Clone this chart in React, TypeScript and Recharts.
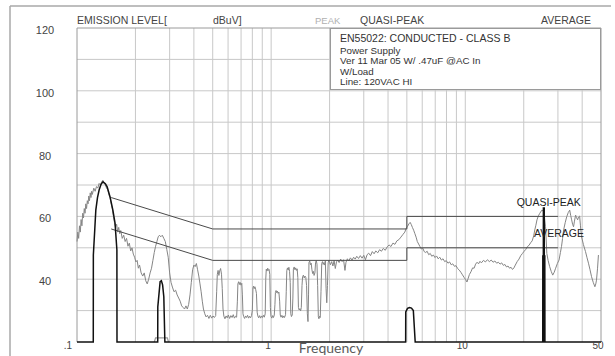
import React from 'react';
import { ComposedChart, Line, XAxis, YAxis, ReferenceLine, ReferenceDot } from 'recharts';

// Frequency axis (MHz, log) and level axis (dBuV)
const freqTicks = [0.1, 1, 10, 50];
const freqTickLabels: Record<number, string> = { 0.1: '.1', 1: '1', 10: '10', 50: '50' };
const levelTicks = [120, 100, 80, 60, 40];
const freqGrid = [0.2, 0.3, 0.4, 0.5, 0.6, 0.7, 0.8, 0.9, 1, 2, 3, 4, 5, 6, 7, 8, 9, 10, 20, 30, 40];
const levelGrid = [30, 40, 50, 60, 70, 80, 90, 100, 110];

// Peak detector scan [MHz, dBuV]
const peakScan: [number, number][] = [
  [0.100, 52], [0.101, 55], [0.102, 53], [0.103, 57], [0.104, 55], [0.105, 59], [0.106, 57], [0.107, 61],
  [0.108, 59.5], [0.109, 62.5], [0.110, 61], [0.111, 64], [0.112, 62.5], [0.113, 65], [0.114, 64], [0.115, 66.5],
  [0.116, 65], [0.117, 67.5], [0.118, 66], [0.119, 68], [0.120, 67], [0.122, 69], [0.124, 68], [0.126, 69.5],
  [0.128, 69], [0.130, 70.5], [0.132, 70], [0.134, 71], [0.136, 71.5], [0.138, 70.5], [0.140, 70], [0.142, 69],
  [0.144, 68.5], [0.146, 67], [0.148, 66], [0.150, 64], [0.152, 62.5], [0.154, 60], [0.156, 58], [0.158, 56.5],
  [0.160, 57.5], [0.162, 55], [0.164, 56.5], [0.166, 54.5], [0.168, 55.5], [0.171, 53], [0.174, 54], [0.177, 52],
  [0.180, 53], [0.183, 50.5], [0.186, 51.5], [0.189, 49], [0.192, 50], [0.195, 48], [0.198, 47], [0.201, 45.5],
  [0.204, 46], [0.207, 43.5], [0.210, 44.5], [0.214, 42], [0.218, 41], [0.222, 42], [0.226, 39.5], [0.230, 38.5],
  [0.234, 40], [0.238, 42], [0.242, 43.5], [0.246, 46], [0.250, 48.5], [0.254, 50.5], [0.258, 52], [0.262, 53.5],
  [0.266, 54], [0.270, 53.5], [0.275, 54], [0.280, 53], [0.285, 52], [0.290, 49.5], [0.295, 47], [0.300, 42],
  [0.305, 39], [0.310, 37.5], [0.316, 36], [0.322, 36.5], [0.328, 35], [0.334, 34], [0.340, 33], [0.346, 31.5],
  [0.352, 31], [0.358, 30.5], [0.364, 31.5], [0.370, 30.5], [0.376, 32], [0.382, 35], [0.388, 39], [0.394, 43],
  [0.400, 44.5], [0.406, 44], [0.412, 45], [0.418, 43], [0.424, 41], [0.430, 38.5], [0.436, 36], [0.442, 33],
  [0.448, 30.5], [0.455, 29], [0.462, 28], [0.470, 28.5], [0.478, 27.5], [0.486, 28.5], [0.494, 27.6], [0.502, 28.3],
  [0.510, 27.8], [0.518, 28.4], [0.524, 36], [0.528, 41.5], [0.533, 42.8], [0.538, 41.2], [0.543, 42.6], [0.549, 43.4],
  [0.555, 41.6], [0.560, 37], [0.565, 30.5], [0.571, 28.2], [0.578, 27.4], [0.586, 28.3], [0.594, 27.7], [0.602, 28.6],
  [0.611, 27.5], [0.620, 28.4], [0.629, 27.8], [0.638, 28.7], [0.647, 27.6], [0.656, 28.2], [0.664, 27.9], [0.670, 33],
  [0.674, 38.5], [0.680, 39.2], [0.686, 38.3], [0.692, 39], [0.699, 38.1], [0.706, 38.7], [0.711, 35], [0.716, 29],
  [0.722, 28.1], [0.730, 27.5], [0.738, 28.3], [0.747, 27.8], [0.756, 28.5], [0.765, 27.6], [0.774, 28.2], [0.783, 27.7],
  [0.792, 28.4], [0.800, 30], [0.806, 37.2], [0.812, 37.8], [0.818, 37], [0.825, 37.6], [0.832, 36.8], [0.840, 35.5],
  [0.847, 29.5], [0.854, 28.3], [0.862, 27.7], [0.872, 28.4], [0.882, 27.6], [0.892, 28.3], [0.902, 27.8], [0.912, 28.5],
  [0.922, 27.9], [0.932, 29], [0.938, 40], [0.944, 43.2], [0.952, 42.6], [0.960, 43.5], [0.968, 42.8], [0.976, 43.1],
  [0.984, 41.5], [0.991, 31], [0.998, 28.2], [1.008, 27.6], [1.018, 28.4], [1.028, 27.8], [1.038, 28.6], [1.046, 32],
  [1.052, 35.8], [1.060, 36.4], [1.068, 35.7], [1.077, 36.2], [1.086, 35.5], [1.096, 35.9], [1.106, 33], [1.114, 28.6],
  [1.124, 27.9], [1.136, 28.5], [1.148, 27.7], [1.160, 28.3], [1.172, 27.8], [1.186, 28.7], [1.196, 36], [1.204, 42.8],
  [1.214, 43.6], [1.224, 42.9], [1.234, 43.8], [1.244, 42.5], [1.254, 39], [1.262, 29], [1.272, 28.1], [1.284, 28.6],
  [1.294, 34], [1.302, 43.2], [1.314, 43.9], [1.326, 43], [1.338, 43.6], [1.350, 42.8], [1.362, 43.3], [1.372, 40.5],
  [1.382, 31], [1.394, 30.2], [1.406, 30.6], [1.418, 29.9], [1.430, 31], [1.442, 38], [1.452, 40.8], [1.466, 41.3],
  [1.480, 40.4], [1.494, 41], [1.508, 40.6], [1.522, 38], [1.536, 29], [1.548, 26.5], [1.558, 35], [1.566, 45.3],
  [1.580, 45.8], [1.594, 44.6], [1.608, 45.1], [1.622, 43], [1.636, 41.8], [1.650, 42.5], [1.664, 41.2], [1.680, 42],
  [1.694, 45.4], [1.708, 45.9], [1.722, 44.8], [1.736, 38], [1.750, 28], [1.762, 27.4], [1.776, 28.2], [1.790, 27.8],
  [1.806, 36], [1.822, 45], [1.838, 45.6], [1.854, 44.7], [1.870, 45.3], [1.886, 44.5], [1.902, 45.8], [1.918, 37],
  [1.934, 32.5], [1.950, 38], [1.966, 45.2], [1.982, 46], [2.000, 45.4], [2.02, 44.6], [2.05, 45.6], [2.08, 44.2],
  [2.11, 45.9], [2.14, 43.4], [2.17, 45.5], [2.20, 46.1], [2.24, 45.3], [2.28, 46.4], [2.32, 45.6], [2.36, 46.2],
  [2.40, 42.8], [2.43, 45.4], [2.47, 46.5], [2.51, 45.8], [2.56, 46.8], [2.61, 46.1], [2.66, 47], [2.71, 46.4],
  [2.76, 47.3], [2.82, 46.6], [2.88, 47.5], [2.94, 46.7], [3.00, 47.6], [3.06, 46.2], [3.12, 47.8], [3.18, 48.3],
  [3.25, 47.5], [3.32, 48.8], [3.39, 48.1], [3.46, 49], [3.54, 48.4], [3.62, 49.4], [3.70, 48.9], [3.78, 49.8],
  [3.87, 49.2], [3.96, 50.3], [4.05, 50.9], [4.14, 50.4], [4.24, 51.5], [4.34, 51.1], [4.44, 52.2], [4.55, 52.6],
  [4.66, 53.4], [4.78, 54.3], [4.88, 55], [4.96, 56.2], [5.04, 56.8], [5.12, 57.6], [5.20, 58.1], [5.27, 57.4],
  [5.34, 56.5], [5.42, 55.6], [5.50, 54.5], [5.58, 53.4], [5.66, 52], [5.75, 51.2], [5.84, 50.4], [5.94, 49.6],
  [6.04, 49.9], [6.14, 48.8], [6.25, 48.5], [6.36, 48.9], [6.48, 47.8], [6.60, 48.2], [6.72, 47.3], [6.85, 47.7],
  [6.98, 46.9], [7.11, 47.4], [7.25, 46.5], [7.39, 47], [7.53, 46.1], [7.68, 46.5], [7.83, 45.6], [7.98, 45.9],
  [8.14, 45.1], [8.30, 45.5], [8.46, 44.6], [8.62, 44.9], [8.79, 44.1], [8.96, 44.3], [9.13, 43.4], [9.31, 42.9],
  [9.49, 42.2], [9.67, 41.4], [9.85, 40.6], [10.03, 39.9], [10.2, 39.1], [10.35, 40.3], [10.5, 41.5], [10.7, 42.4],
  [10.9, 43.6], [11.1, 43.5], [11.3, 44.8], [11.5, 45.4], [11.7, 44.9], [11.9, 45.7], [12.1, 45.2], [12.4, 46],
  [12.7, 45.5], [13.0, 46.2], [13.3, 45.6], [13.6, 46.1], [13.9, 45.4], [14.2, 45.8], [14.5, 45.1], [14.8, 45.4],
  [15.1, 44.8], [15.4, 45.2], [15.7, 44.4], [16.0, 44.7], [16.3, 43.9], [16.6, 44.2], [16.9, 43.5], [17.2, 43.8],
  [17.5, 43.1], [17.8, 43.6], [18.1, 44.5], [18.5, 45.6], [18.9, 46.4], [19.3, 47.5], [19.7, 48.2], [20.1, 48.9],
  [20.5, 49.5], [20.9, 50.4], [21.3, 50.8], [21.7, 51.6], [22.1, 52.2], [22.5, 53.8], [22.8, 55.7], [23.1, 57.2],
  [23.4, 58.9], [23.8, 60.2], [24.2, 61], [24.8, 62], [25.4, 61.5], [25.9, 56.7], [26.3, 48.2], [26.7, 46],
  [27.2, 44], [27.7, 42.5], [28.2, 41.3], [28.7, 42.2], [29.2, 43.5], [29.8, 45], [30.4, 46.1], [30.9, 48.5],
  [31.3, 50.4], [31.7, 53], [32.1, 55.7], [32.7, 58], [33.3, 59.9], [33.9, 61.2], [34.5, 62], [34.9, 60.3],
  [35.3, 58.9], [35.7, 57.5], [36.1, 56.7], [36.5, 58.5], [37.0, 60.4], [37.4, 59.6], [37.9, 58.9], [38.3, 59.8],
  [38.8, 60.1], [39.2, 57], [39.7, 53.5], [40.6, 51], [41.6, 48.8], [42.3, 47], [43.1, 45.1], [43.9, 43],
  [44.7, 40.8], [45.6, 39], [46.5, 37.6], [47.0, 38.5], [47.4, 39.7], [48.0, 43.5], [48.5, 47.7],
];

// EN55022 class B limits
const qpLimit: [number, number][] = [[0.15, 66], [0.5, 56], [5, 56], [5, 60], [30, 60]];
const avLimit: [number, number][] = [[0.15, 56], [0.5, 46], [5, 46], [5, 50], [30, 50]];

// Quasi-peak measurement trace
const qpMeasured: [number, number][] = [
  [0.1, 20], [0.1213, 20], [0.1214, 47.7], [0.1235, 56], [0.125, 62], [0.1275, 66], [0.13, 68.4], [0.133, 70.2],
  [0.136, 71], [0.14, 70.4], [0.143, 69.4], [0.148, 66.2], [0.153, 62], [0.157, 57.9], [0.1605, 49.3], [0.1607, 20],
  [0.2605, 20], [0.2607, 31.2], [0.268, 39.2], [0.272, 39.5], [0.276, 38.2], [0.28, 34.4], [0.2835, 20],
  [4.93, 20], [4.935, 29.6], [5.04, 30.7], [5.16, 31], [5.28, 30.8], [5.4, 30], [5.52, 20],
  [25.2, 20], [25.25, 62.7], [25.5, 62.7], [25.55, 20], [50, 20],
];

// Average measurement traces
const avLow: [number, number][] = [[0.25, 20], [0.254, 21.3], [0.292, 21.3], [0.296, 20]];
const avMeasured: [number, number][] = [[25.22, 20], [25.25, 47.2], [25.5, 47.2], [25.53, 20]];

const toRows = (pts: [number, number][]) => pts.map(([f, dB]) => ({ f, dB }));

const peakRows = toRows(peakScan);
const qpLimitRows = toRows(qpLimit);
const avLimitRows = toRows(avLimit);
const qpRows = toRows(qpMeasured);
const avLowRows = toRows(avLow);
const avRows = toRows(avMeasured);

const FONT = '"Liberation Sans", Arial, sans-serif';
const GRID = '#c8c8c8';

const XTick = (props: any) => {
  const v = props.payload.value;
  const dx = v === 0.1 ? -9 : -3;
  return (
    <text x={props.x + dx} y={349} textAnchor="middle" fontSize={10} fontFamily={FONT} fill="#444">
      {freqTickLabels[v]}
    </text>
  );
};

const YTick = (props: any) => (
  <text x={45} y={props.y + 6} textAnchor="middle" fontSize={11} fontFamily={FONT} fill="#444">
    {props.payload.value}
  </text>
);

export default function App() {
  return (
    <div style={{ position: 'absolute', left: 0, top: 0, width: 615, height: 356, background: '#fff' }}>
      <ComposedChart width={615} height={356} margin={{ top: 28, right: 14, bottom: 0, left: 0 }}>
        <XAxis
          dataKey="f"
          type="number"
          scale="log"
          domain={[0.1, 50]}
          ticks={freqTicks}
          tick={<XTick />}
          tickLine={false}
          axisLine={false}
          height={14}
        />
        <YAxis
          type="number"
          domain={[20, 120]}
          ticks={levelTicks}
          tick={<YTick />}
          tickLine={false}
          axisLine={false}
          width={77}
        />
        {freqGrid.map((v) => (
          <ReferenceLine key={'vx' + v} x={v} stroke={GRID} strokeWidth={1} />
        ))}
        {levelGrid.map((v) => (
          <ReferenceLine key={'hy' + v} y={v} stroke={GRID} strokeWidth={1} />
        ))}
        <ReferenceLine x={0.1} stroke="#9a9a9a" />
        <ReferenceLine x={50} stroke="#9a9a9a" />
        <ReferenceLine y={120} stroke="#9a9a9a" />
        <Line data={peakRows} dataKey="dB" type="linear" dot={false} stroke="#858585" strokeWidth={1} isAnimationActive={false} />
        <Line data={qpLimitRows} dataKey="dB" type="linear" dot={false} stroke="#4a4a4a" strokeWidth={1} isAnimationActive={false} />
        <Line data={avLimitRows} dataKey="dB" type="linear" dot={false} stroke="#4a4a4a" strokeWidth={1} isAnimationActive={false} />
        <Line data={avLowRows} dataKey="dB" type="linear" dot={false} stroke="#9a9a9a" strokeWidth={1.2} isAnimationActive={false} />
        <Line data={qpRows} dataKey="dB" type="linear" dot={false} stroke="#111" strokeWidth={1.5} isAnimationActive={false} />
        <Line data={avRows} dataKey="dB" type="linear" dot={false} stroke="#111" strokeWidth={2.6} isAnimationActive={false} />
        <ReferenceDot
          x={26.9}
          y={60}
          r={0}
          stroke="none"
          label={{ value: 'QUASI-PEAK', position: 'top', offset: 10, fontSize: 10.5, fontFamily: FONT, fill: '#222' }}
        />
        <ReferenceDot
          x={30.4}
          y={50}
          r={0}
          stroke="none"
          label={{ value: 'AVERAGE', position: 'top', offset: 11, fontSize: 10.5, fontFamily: FONT, fill: '#222' }}
        />
      </ComposedChart>
      <svg width={615} height={356} style={{ position: 'absolute', left: 0, top: 0, pointerEvents: 'none' }}>
        <line x1={10} y1={6} x2={611} y2={6} stroke="#a8a8a8" strokeWidth={1.5} />
        <line x1={10} y1={6} x2={10} y2={356} stroke="#a8a8a8" strokeWidth={1.5} />
        <g fontFamily={FONT} fontSize={10.5} fill="#444">
          <text x={77} y={24}>EMISSION LEVEL[</text>
          <text x={213} y={24}>dBuV]</text>
          <text x={315} y={24} fontSize={9.5} fill="#b0b0b0">PEAK</text>
          <text x={360} y={24}>QUASI-PEAK</text>
          <text x={541} y={24}>AVERAGE</text>
        </g>
        <rect x={330.5} y={28.5} width={270} height={61} fill="#fff" stroke="#9a9a9a" strokeWidth={1} />
        <g fontFamily={FONT} fill="#333">
          <text x={340} y={41.5} fontSize={10.5}>EN55022: CONDUCTED - CLASS B</text>
          <text x={340} y={54} fontSize={9.8}>Power Supply</text>
          <text x={340} y={64.3} fontSize={9.8}>Ver 11 Mar 05 W/ .47uF @AC In</text>
          <text x={340} y={74.6} fontSize={9.8}>W/Load</text>
          <text x={340} y={85} fontSize={9.8}>Line: 120VAC HI</text>
        </g>
        <text x={331} y={353} textAnchor="middle" fontFamily="Lato, 'Open Sans', sans-serif" fontSize={14} fill="#5a5a5a">
          Frequency
        </text>
      </svg>
    </div>
  );
}
